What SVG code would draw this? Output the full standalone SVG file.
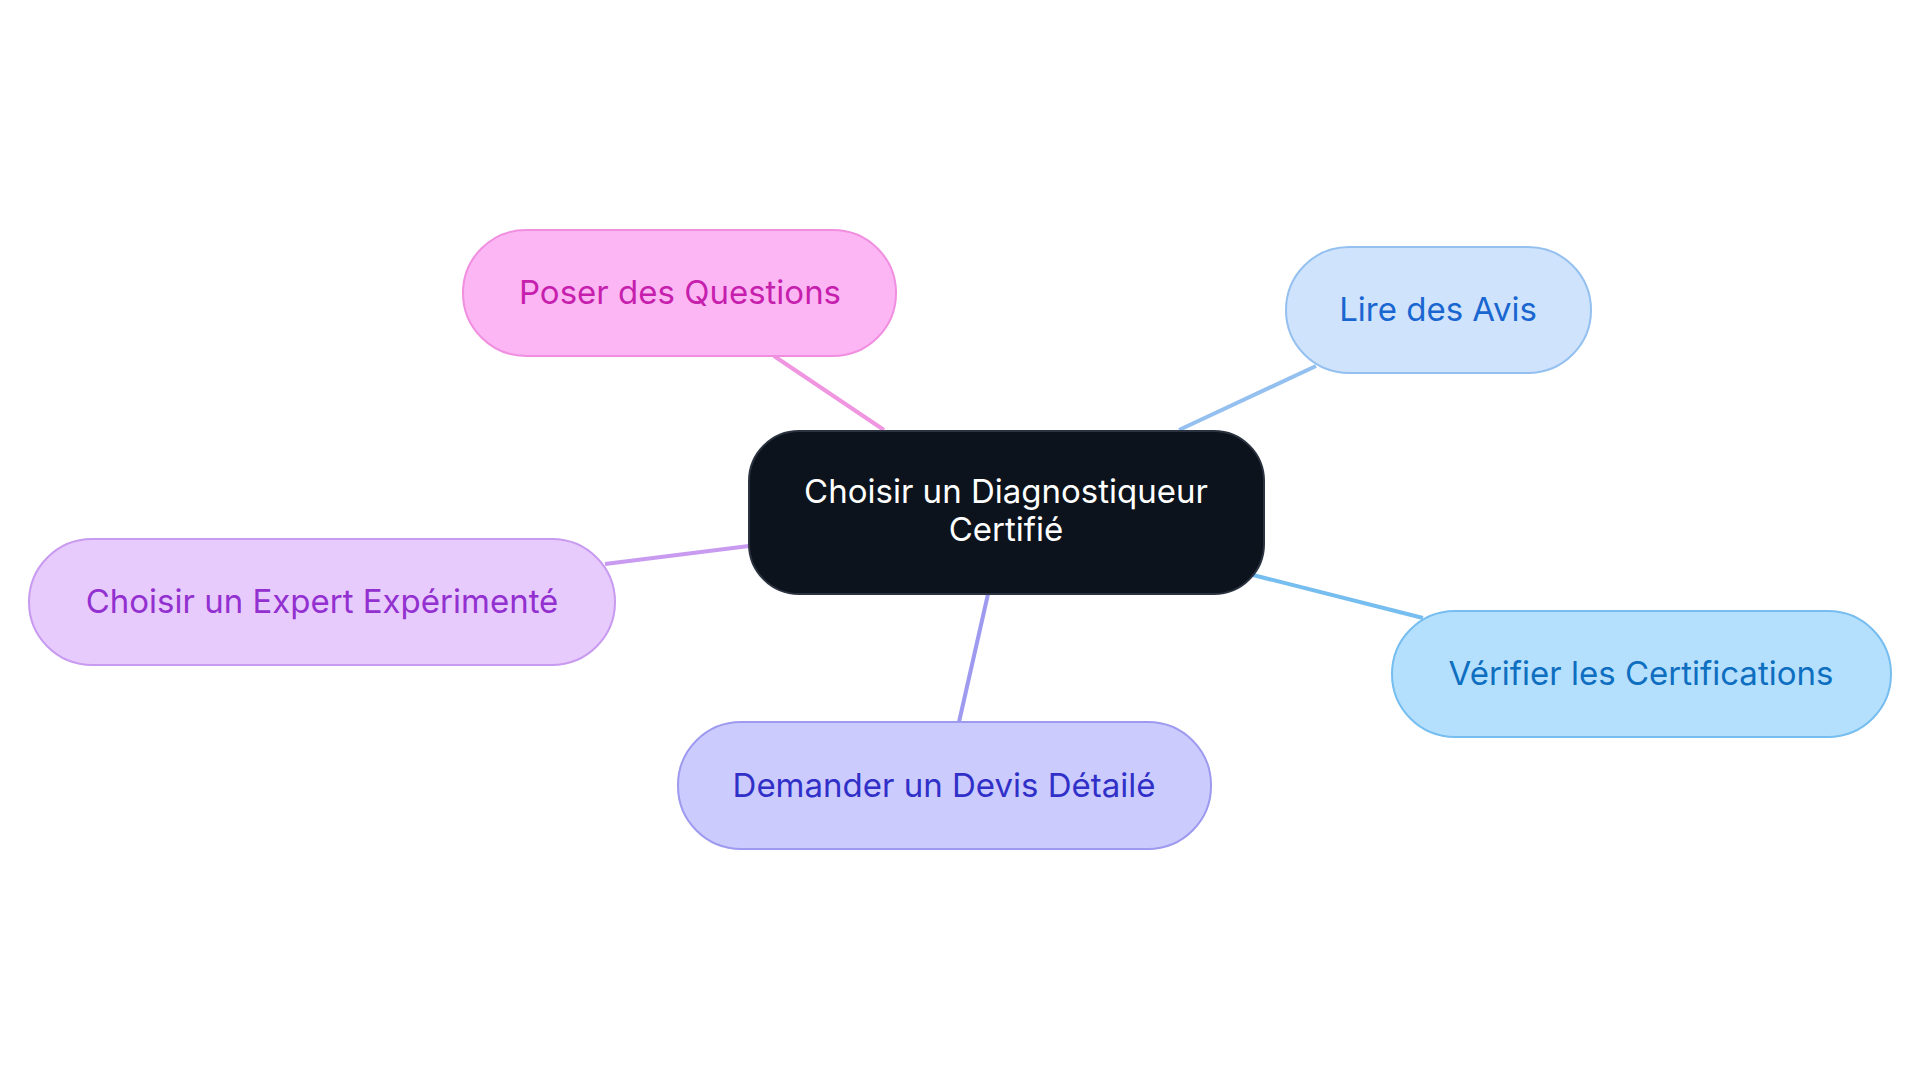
<svg xmlns="http://www.w3.org/2000/svg" width="1920" height="1083" viewBox="0 0 1920 1083">
<style>
text{font-family:Inter,"Noto Sans",sans-serif;font-size:33px;text-anchor:middle;dominant-baseline:central}
.e{stroke-width:4;fill:none}
</style>
<rect width="1920" height="1083" fill="#fff"/>
<g id="connectors">
<line class="e" x1="774" y1="356" x2="884" y2="430" stroke="#f095e0"/>
<line class="e" x1="1316" y1="366" x2="1179" y2="430" stroke="#94c0f0"/>
<line class="e" x1="1423" y1="618" x2="1249" y2="574" stroke="#76bdf0"/>
<line class="e" x1="988" y1="594" x2="959" y2="722" stroke="#9d9af0"/>
<line class="e" x1="605" y1="564" x2="749" y2="546" stroke="#c89af0"/>
</g>
<g id="center"><rect x="749" y="431" width="515" height="163" rx="50" fill="#0d131c" stroke="#2c3340" stroke-width="2"/>
<text x="1006" y="491" fill="#fff">Choisir un Diagnostiqueur</text><text x="1006" y="529" fill="#fff">Certifié</text></g>
<g id="poser"><rect x="463" y="230" width="433" height="126" rx="63" fill="#fdb6f4" stroke="#f08ee0" stroke-width="2"/><text x="680" y="292" fill="#c61fae">Poser des Questions</text></g>
<g id="lire"><rect x="1286" y="247" width="305" height="126" rx="63" fill="#cfe3fc" stroke="#94c0f0" stroke-width="2"/><text x="1438" y="309" fill="#1a66d0">Lire des Avis</text></g>
<g id="verifier"><rect x="1392" y="611" width="499" height="126" rx="63" fill="#b5e0fd" stroke="#76bdf0" stroke-width="2"/><text x="1641" y="673" fill="#0e6ec0">Vérifier les Certifications</text></g>
<g id="demander"><rect x="678" y="722" width="533" height="127" rx="63" fill="#cccbfd" stroke="#9d9af0" stroke-width="2"/><text x="944" y="785" fill="#3030c8">Demander un Devis Détailé</text></g>
<g id="expert"><rect x="29" y="539" width="586" height="126" rx="63" fill="#e7cbfc" stroke="#c89af0" stroke-width="2"/><text x="322" y="601" fill="#9330d0">Choisir un Expert Expérimenté</text></g>
</svg>
